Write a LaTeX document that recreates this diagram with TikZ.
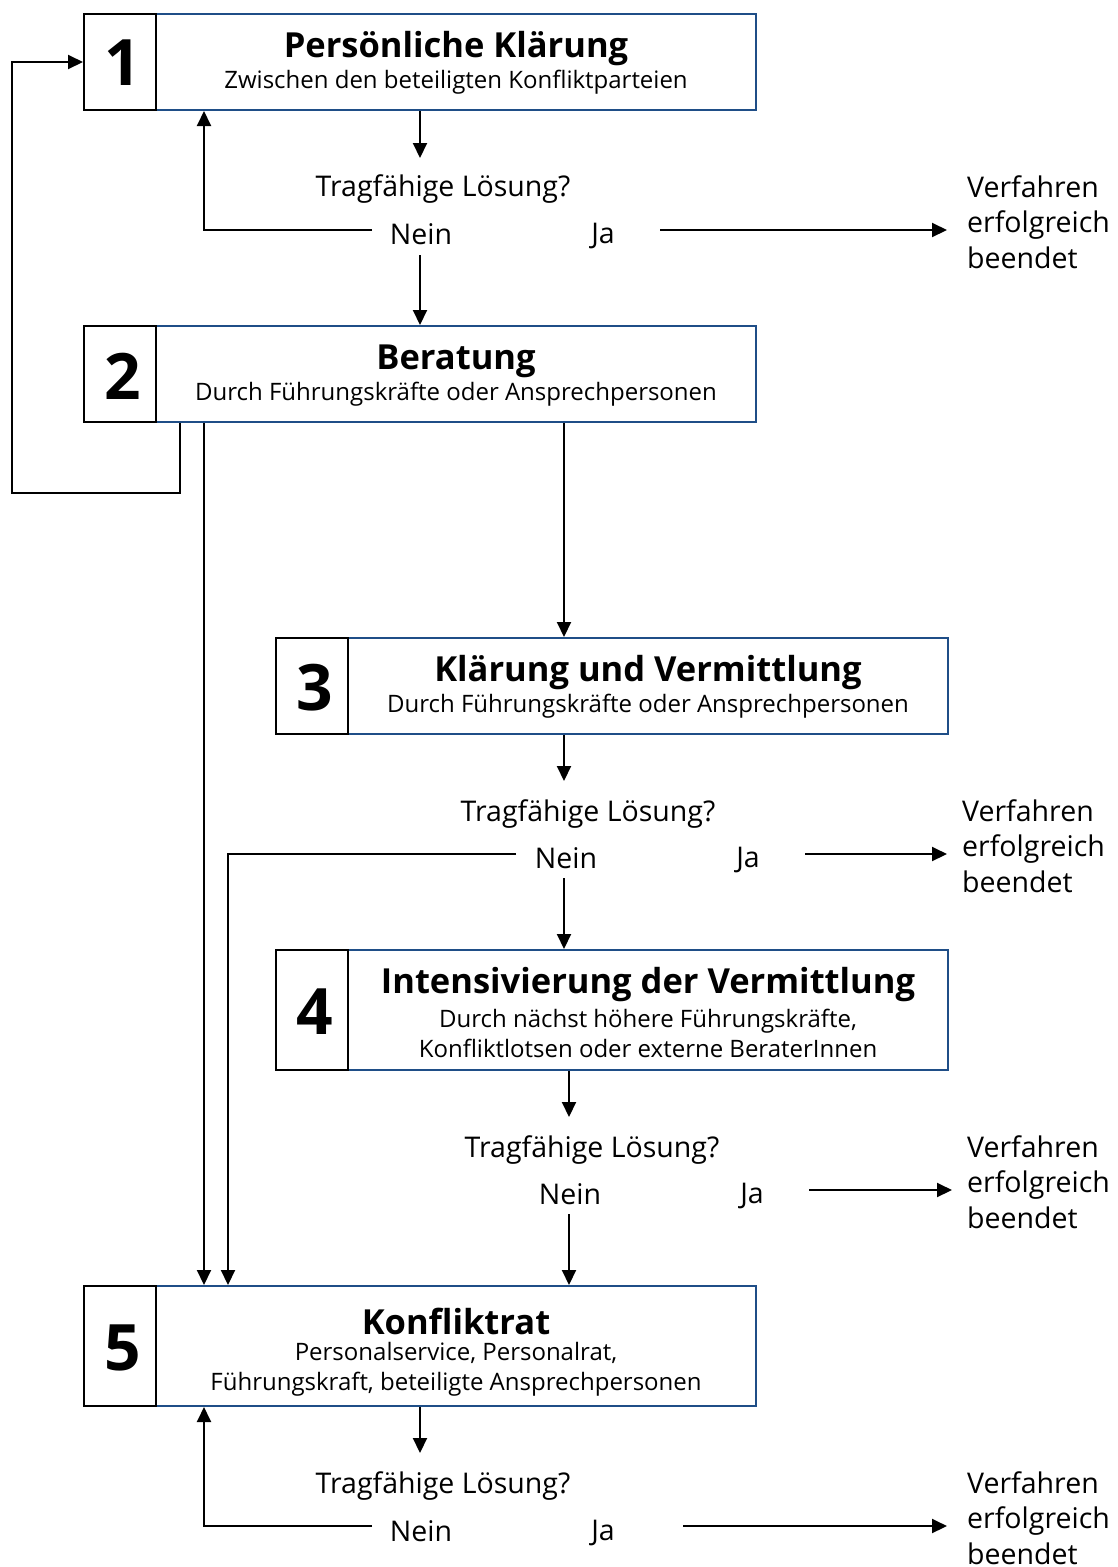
\documentclass[tikz,border=0pt]{standalone}
\usepackage{fontspec}
\setmainfont{Open Sans}
\usetikzlibrary{arrows.meta}
\definecolor{boxblue}{RGB}{31,78,135}
\tikzset{
  numbox/.style={draw=black, line width=2pt, minimum width=72pt, inner sep=0pt},
  numtxt/.style={font=\fontsize{64}{64}\selectfont\bfseries, inner sep=0pt},
  mainbox/.style={draw=boxblue, line width=2pt, minimum width=600pt, inner sep=0pt},
  ttl/.style={font=\fontsize{34.5}{36}\selectfont\bfseries, inner sep=0pt},
  subt/.style={font=\fontsize{24}{30}\selectfont, inner sep=0pt, align=center},
  qtxt/.style={font=\fontsize{28.5}{30}\selectfont, inner sep=0pt},
  restxt/.style={font=\fontsize{28.5}{35.5}\selectfont, inner sep=0pt, align=left, anchor=west},
  conn/.style={line width=2pt},
  arr/.style={line width=2pt, -{Triangle[length=15pt,width=14pt]}}
}
\begin{document}
\begin{tikzpicture}[x=1pt,y=-1pt]
\useasboundingbox[fill=white] (0,0) rectangle (1118,1567);
% boxes
\node[mainbox, minimum height=96pt] (b1) at (456,62) {};
\node[numbox, minimum height=96pt] (n1) at (120,62) {};
\node[mainbox, minimum height=96pt] (b2) at (456,374) {};
\node[numbox, minimum height=96pt] (n2) at (120,374) {};
\node[mainbox, minimum height=96pt] (b3) at (648,686) {};
\node[numbox, minimum height=96pt] (n3) at (312,686) {};
\node[mainbox, minimum height=120pt] (b4) at (648,1010) {};
\node[numbox, minimum height=120pt] (n4) at (312,1010) {};
\node[mainbox, minimum height=120pt] (b5) at (456,1346) {};
\node[numbox, minimum height=120pt] (n5) at (120,1346) {};
% numbers
\node[numtxt] (d1) at (123,63) {1};
\node[numtxt] (d2) at (123,376) {2};
\node[numtxt] (d3) at (315,688) {3};
\node[numtxt] (d4) at (315,1012) {4};
\node[numtxt] (d5) at (123,1348) {5};
% box texts
\node[ttl] (t1) at (456,49) {Persönliche Klärung};
\node[subt] (s1) at (456,82) {Zwischen den beteiligten Konfliktparteien};
\node[ttl] (t2) at (456,361) {Beratung};
\node[subt] (s2) at (456,394) {Durch Führungskräfte oder Ansprechpersonen};
\node[ttl] (t3) at (648,673) {Klärung und Vermittlung};
\node[subt] (s3) at (648,706) {Durch Führungskräfte oder Ansprechpersonen};
\node[ttl] (t4) at (648,985) {Intensivierung der Vermittlung};
\node[subt] (s4) at (648,1033) {Durch nächst höhere Führungskräfte,\\Konfliktlotsen oder externe BeraterInnen};
\node[ttl] (t5) at (456,1321) {Konfliktrat};
\node[subt] (s5) at (456,1369) {Personalservice, Personalrat,\\Führungskraft, beteiligte Ansprechpersonen};
% questions
\node[qtxt] (q1) at (443,189) {Tragfähige Lösung?};
\node[qtxt] (nein1) at (421,234) {Nein};
\node[qtxt] (ja1) at (603,236) {Ja};
\node[restxt] (r1) at (967,222) {Verfahren\\erfolgreich\\beendet};
\node[qtxt] (q3) at (588,814) {Tragfähige Lösung?};
\node[qtxt] (nein3) at (566,858) {Nein};
\node[qtxt] (ja3) at (748,860) {Ja};
\node[restxt] (r3) at (962,846) {Verfahren\\erfolgreich\\beendet};
\node[qtxt] (q4) at (592,1150) {Tragfähige Lösung?};
\node[qtxt] (nein4) at (570,1194) {Nein};
\node[qtxt] (ja4) at (752,1196) {Ja};
\node[restxt] (r4) at (967,1182) {Verfahren\\erfolgreich\\beendet};
\node[qtxt] (q5) at (443,1486) {Tragfähige Lösung?};
\node[qtxt] (nein5) at (421,1531) {Nein};
\node[qtxt] (ja5) at (603,1533) {Ja};
\node[restxt] (r5) at (967,1518) {Verfahren\\erfolgreich\\beendet};
% coordinates
\coordinate (x12) at (12,0);
\coordinate (x180) at (180,0);
\coordinate (x204) at (204,0);
\coordinate (x228) at (228,0);
\coordinate (x420) at (420,0);
\coordinate (x564) at (564,0);
\coordinate (x569) at (569,0);
\coordinate (a1) at (420,158);
\coordinate (nl1) at (372,230);
\coordinate (ja1s) at (660,230);
\coordinate (ja1e) at (947,230);
\coordinate (nd1) at (420,255);
\coordinate (loop2) at (12,493);
\coordinate (a3) at (564,781);
\coordinate (nl3) at (516,854);
\coordinate (ja3s) at (805,854);
\coordinate (ja3e) at (947,854);
\coordinate (nd3) at (564,878);
\coordinate (a4) at (569,1117);
\coordinate (ja4s) at (809,1190);
\coordinate (ja4e) at (952,1190);
\coordinate (nd4) at (569,1214);
\coordinate (a5) at (420,1453);
\coordinate (nl5) at (372,1526);
\coordinate (ja5s) at (683,1526);
\coordinate (ja5e) at (947,1526);
% connectors
\draw[arr] (b1.south -| x420) -- (a1);
\draw[arr] (nl1) -| (b1.south -| x204);
\draw[arr] (ja1s) -- (ja1e);
\draw[arr] (nd1) -- (b2.north -| x420);
\draw[arr] (b2.south -| x180) |- (loop2) |- (n1.west);
\draw[arr] (b2.south -| x204) -- (b5.north -| x204);
\draw[arr] (b2.south -| x564) -- (b3.north -| x564);
\draw[arr] (b3.south -| x564) -- (a3);
\draw[arr] (nl3) -| (b5.north -| x228);
\draw[arr] (ja3s) -- (ja3e);
\draw[arr] (nd3) -- (b4.north -| x564);
\draw[arr] (b4.south -| x569) -- (a4);
\draw[arr] (ja4s) -- (ja4e);
\draw[arr] (nd4) -- (b5.north -| x569);
\draw[arr] (b5.south -| x420) -- (a5);
\draw[arr] (nl5) -| (b5.south -| x204);
\draw[arr] (ja5s) -- (ja5e);
\end{tikzpicture}
\end{document}
